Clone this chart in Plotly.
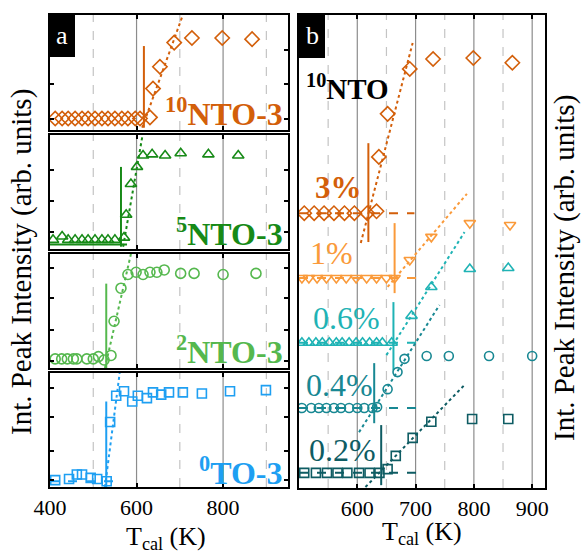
import plotly.graph_objects as go

W, H = 582, 554
def px(x): return x / W
def py(y): return 1 - y / H

FONT = "Liberation Serif"

# ---------------- Panel a data ----------------
a10_T = [412, 428, 442, 458, 474, 488, 504, 520, 534, 550, 566, 580, 597, 608, 631, 638, 654, 687, 728, 798, 867]
a10_I = [0.10, 0.10, 0.10, 0.10, 0.10, 0.10, 0.10, 0.10, 0.10, 0.10, 0.10, 0.10, 0.10, 0.10, 0.11, 0.36, 0.55, 0.76, 0.80, 0.80, 0.79]
a10_vT, a10_vI = [617, 617], [0.02, 0.73]
a10_fT, a10_fI = [613, 707], [0.02, 1.0]

a5_T = [407, 428, 442, 458, 474, 488, 504, 520, 534, 550, 571, 576, 587, 601, 615, 636, 666, 702, 766, 835]
a5_I = [0.08, 0.11, 0.08, 0.08, 0.08, 0.08, 0.08, 0.08, 0.08, 0.08, 0.10, 0.30, 0.57, 0.72, 0.82, 0.83, 0.82, 0.84, 0.83, 0.82]
a5_vT, a5_vI = [564, 564], [0.02, 0.72]
a5_fT, a5_fI = [569, 613], [0.02, 0.98]
a5_bT, a5_bI = [400, 578], [0.04, 0.04]

a2_T = [412, 427, 440, 454, 462, 485, 500, 512, 525, 541, 548, 564, 580, 599, 615, 631, 647, 664, 702, 733, 800, 876]
a2_I = [0.08, 0.08, 0.08, 0.08, 0.08, 0.08, 0.08, 0.10, 0.07, 0.11, 0.41, 0.70, 0.82, 0.84, 0.82, 0.84, 0.84, 0.86, 0.83, 0.83, 0.82, 0.83]
a2_vT, a2_vI = [530, 530], [0.0, 0.74]
a2_fT, a2_fI = [527, 590], [0.0, 1.05]

a0_T = [412, 444, 462, 474, 494, 509, 531, 539, 553, 571, 590, 603, 624, 638, 657, 675, 707, 751, 816, 899]
a0_I = [0.06, 0.07, 0.11, 0.11, 0.08, 0.07, 0.05, 0.57, 0.80, 0.84, 0.75, 0.80, 0.78, 0.83, 0.81, 0.83, 0.83, 0.82, 0.84, 0.85]
a0_vT, a0_vI = [530, 530], [0.0, 0.75]
a0_fT, a0_fI = [527, 561], [0.0, 1.0]
a0_bT, a0_bI = [400, 555], [0.05, 0.05]

# ---------------- Panel b data ----------------
b3_T = [509, 526, 543, 560, 578, 595, 617, 633, 637, 652, 690, 730, 799, 866]
b3_I = [0.581, 0.581, 0.581, 0.581, 0.581, 0.581, 0.581, 0.585, 0.700, 0.791, 0.886, 0.907, 0.909, 0.899]
b3_vT, b3_vI = [619, 619], [0.520, 0.729]
b3_fT, b3_fI = [606, 695], [0.518, 0.941]
b3_hT, b3_hI = [500, 698], [0.581, 0.581]

b1_T = [505, 517, 531, 547, 564, 581, 598, 616, 633, 650, 664, 690, 727, 793, 862]
b1_I = [0.444, 0.444, 0.444, 0.444, 0.444, 0.444, 0.444, 0.444, 0.444, 0.444, 0.444, 0.482, 0.531, 0.560, 0.556]
b1_vT, b1_vI = [664, 664], [0.412, 0.560]
b1_fT, b1_fI = [652, 788], [0.425, 0.622]
b1_hT, b1_hI = [500, 712], [0.444, 0.444]

b06_T = [505, 517, 529, 540, 552, 564, 574, 586, 598, 609, 621, 633, 643, 659, 693, 727, 793, 859]
b06_I = [0.307] * 14 + [0.364, 0.425, 0.463, 0.465]
b06_vT, b06_vI = [662, 662], [0.249, 0.393]
b06_fT, b06_fI = [650, 784], [0.281, 0.541]
b06_hT, b06_hI = [500, 712], [0.307, 0.307]

b04_T = [505, 521, 534, 547, 560, 572, 586, 600, 612, 626, 634, 652, 669, 681, 719, 757, 826, 900]
b04_I = [0.169] * 10 + [0.171, 0.209, 0.245, 0.273, 0.279, 0.279, 0.279, 0.279]
b04_vT, b04_vI = [629, 629], [0.137, 0.264]
b04_fT, b04_fI = [603, 741], [0.118, 0.387]
b04_hT, b04_hI = [500, 712], [0.169, 0.169]

b02_T = [509, 529, 548, 566, 583, 603, 621, 638, 652, 666, 695, 727, 797, 859]
b02_I = [0.032] * 8 + [0.040, 0.068, 0.106, 0.140, 0.146, 0.146]
b02_vT, b02_vI = [641, 641], [0.006, 0.133]
b02_fT, b02_fI = [614, 784], [0.002, 0.218]
b02_hT, b02_hI = [500, 712], [0.032, 0.032]

C10 = "#D35F0A"
C5 = "#178A17"
C2 = "#55B84E"
C0 = "#1E9FF2"
C1 = "#FA9A3A"
C06 = "#1FB3B5"
C04 = "#188893"
C02 = "#0E5C63"

fig = go.Figure()

def add_series(T, I, color, symbol, xa, ya, size=9):
    fig.add_trace(go.Scatter(x=T, y=I, mode="markers", xaxis=xa, yaxis=ya,
                             marker=dict(symbol=symbol, size=size, color=color,
                                         line=dict(color=color, width=1.6)),
                             showlegend=False, hoverinfo="skip"))

def add_line(T, I, color, dash, xa, ya, width=2):
    fig.add_trace(go.Scatter(x=T, y=I, mode="lines", xaxis=xa, yaxis=ya,
                             line=dict(color=color, dash=dash, width=width),
                             showlegend=False, hoverinfo="skip"))

# panel a
add_line(a10_fT, a10_fI, C10, "dot", "x", "y")
add_line(a10_vT, a10_vI, C10, "solid", "x", "y")
add_series(a10_T, a10_I, C10, "diamond-open", "x", "y", 11)

add_line(a5_bT, a5_bI, C5, "solid", "x2", "y2")
add_line(a5_fT, a5_fI, C5, "dot", "x2", "y2")
add_line(a5_vT, a5_vI, C5, "solid", "x2", "y2")
add_series(a5_T, a5_I, C5, "triangle-up-open", "x2", "y2", 10)

add_line(a2_fT, a2_fI, C2, "dot", "x3", "y3")
add_line(a2_vT, a2_vI, C2, "solid", "x3", "y3")
add_series(a2_T, a2_I, C2, "circle-open", "x3", "y3", 10)

add_line(a0_bT, a0_bI, C0, "dash", "x4", "y4")
add_line(a0_fT, a0_fI, C0, "dot", "x4", "y4")
add_line(a0_vT, a0_vI, C0, "solid", "x4", "y4")
add_series(a0_T, a0_I, C0, "square-open", "x4", "y4", 9)

# panel b
for (T, I, vT, vI, fT, fI, hT, hI, c, s, sz) in [
    (b3_T, b3_I, b3_vT, b3_vI, b3_fT, b3_fI, b3_hT, b3_hI, C10, "diamond-open", 11),
    (b1_T, b1_I, b1_vT, b1_vI, b1_fT, b1_fI, b1_hT, b1_hI, C1, "triangle-down-open", 10),
    (b06_T, b06_I, b06_vT, b06_vI, b06_fT, b06_fI, b06_hT, b06_hI, C06, "triangle-up-open", 10),
    (b04_T, b04_I, b04_vT, b04_vI, b04_fT, b04_fI, b04_hT, b04_hI, C04, "circle-open", 9),
    (b02_T, b02_I, b02_vT, b02_vI, b02_fT, b02_fI, b02_hT, b02_hI, C02, "square-open", 9),
]:
    add_line(hT, hI, c, "dash", "x5", "y5")
    add_line(fT, fI, c, "dot", "x5", "y5")
    add_line(vT, vI, c, "solid", "x5", "y5")
    add_series(T, I, c, s, "x5", "y5", sz)

# ---------------- axes ----------------
a_rows = [(15, 130), (135, 249), (254, 368), (373, 487)]
ytick_sets = [[0.1, 0.4, 0.7], [0.15, 0.42, 0.69], [0.06, 0.33, 0.61, 0.88], [0.06, 0.32, 0.61, 0.87]]
fig.update_layout(template="none", width=W, height=H, margin=dict(l=0, r=0, t=0, b=0),
                  paper_bgcolor="white", plot_bgcolor="white",
                  font=dict(family=FONT, size=20, color="black"))
shapes = []
def axis_common():
    return dict(showline=True, linecolor="black", linewidth=2, mirror="ticks",
                showgrid=False, zeroline=False, ticks="inside", ticklen=4,
                tickwidth=1.5, tickcolor="black", automargin=False)
axes = {}
for i, (top, bot) in enumerate(a_rows):
    k = "" if i == 0 else str(i + 1)
    xa = axis_common()
    xa.update(domain=[px(50), px(288)], range=[400, 950], anchor="y" + k,
              tickvals=[400, 600, 800], showticklabels=(i == 3),
              tickfont=dict(family=FONT, size=22, color="black"))
    ya = axis_common()
    ya.update(domain=[py(bot), py(top)], range=[0, 1], anchor="x" + k,
              tickvals=ytick_sets[i], showticklabels=False)
    axes["xaxis" + k] = xa
    axes["yaxis" + k] = ya
    xr = "x" + k
    yr = ("y" + k) + " domain"
    for K in [600, 800]:
        shapes.append(dict(type="line", xref=xr, yref=yr, x0=K, x1=K, y0=0, y1=1,
                           line=dict(color="#8C8C8C", width=1.2), layer="below"))
    for K in [500, 700, 900]:
        shapes.append(dict(type="line", xref=xr, yref=yr, x0=K, x1=K, y0=0, y1=1,
                           line=dict(color="#C4C4C4", width=1.2, dash="dash"), layer="below"))

xa = axis_common()
xa.update(domain=[px(299), px(545)], range=[500, 922], anchor="y5",
          tickvals=[600, 700, 800, 900], tickfont=dict(family=FONT, size=22, color="black"))
ya = axis_common()
ya.update(domain=[py(488), py(15)], range=[0, 1], anchor="x5", tickvals=[], showticklabels=False)
axes["xaxis5"] = xa
axes["yaxis5"] = ya
fig.update_layout(**axes)

for K in [600, 700, 800, 900]:
    shapes.append(dict(type="line", xref="x5", yref="y5 domain", x0=K, x1=K, y0=0, y1=1,
                       line=dict(color="#8C8C8C", width=1.2), layer="below"))
for K in [550, 650, 750, 850]:
    shapes.append(dict(type="line", xref="x5", yref="y5 domain", x0=K, x1=K, y0=0, y1=1,
                       line=dict(color="#C4C4C4", width=1.2, dash="dash"), layer="below"))

# panel letter boxes
shapes.append(dict(type="rect", xref="paper", yref="paper", x0=px(50), x1=px(75),
                   y0=py(57), y1=py(15), fillcolor="black", line=dict(width=0)))
shapes.append(dict(type="rect", xref="paper", yref="paper", x0=px(299), x1=px(325),
                   y0=py(58), y1=py(15), fillcolor="black", line=dict(width=0)))
fig.update_layout(shapes=shapes)

def text(x, y, t, size, color="black", xanchor="center", angle=0):
    fig.add_annotation(x=px(x), y=py(y), xref="paper", yref="paper", text=t, showarrow=False,
                       font=dict(family=FONT, size=size, color=color),
                       xanchor=xanchor, yanchor="middle", textangle=angle)

text(62.5, 35, "a", 26, "white")
text(312, 35, "b", 26, "white")

text(285, 112, "<b><sup>10</sup>NTO-3</b>", 32, C10, xanchor="right")
text(285, 232, "<b><sup>5</sup>NTO-3</b>", 32, C5, xanchor="right")
text(285, 350, "<b><sup>2</sup>NTO-3</b>", 32, C2, xanchor="right")
text(285, 471, "<b><sup>0</sup>TO-3</b>", 32, C0, xanchor="right")

text(304, 87, "<b><sup>10</sup>NTO</b>", 29, "black", xanchor="left")
text(313, 188, "<b>3%</b>", 31, C10, xanchor="left")
text(308, 253, "1%", 32, C1, xanchor="left")
text(311, 318, "0.6%", 32, C06, xanchor="left")
text(304, 385, "0.4%", 32, C04, xanchor="left")
text(307, 450, "0.2%", 32, C02, xanchor="left")

text(166, 538, "T<sub>cal</sub> (K)", 26)
text(422, 533, "T<sub>cal</sub> (K)", 26)
text(21, 262, "Int. Peak Intensity (arb. units)", 29, angle=-90)
text(564, 268, "Int. Peak Intensity (arb. units)", 29, angle=-90)

fig.write_html("out.html")
